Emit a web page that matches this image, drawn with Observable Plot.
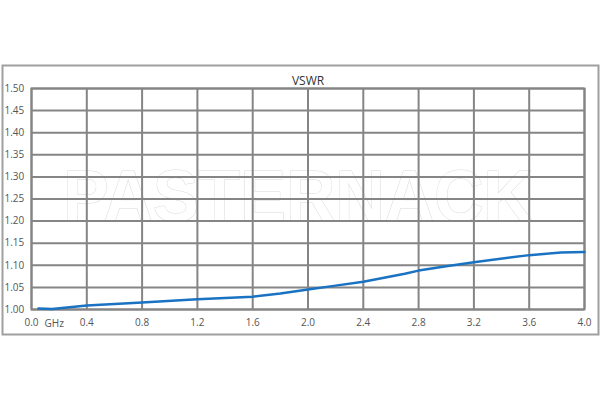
<!DOCTYPE html>
<html>
<head>
<meta charset="utf-8">
<script src="https://cdn.jsdelivr.net/npm/d3@7"></script>
<script src="https://cdn.jsdelivr.net/npm/@observablehq/plot@0.6"></script>
<style>
  html, body { margin: 0; padding: 0; background: #fff; }
  #chart svg { display: block; }
</style>
</head>
<body>
<div id="chart"></div>
<script>
const title = "VSWR";
const unitLabel = "GHz";
const watermark = "PASTERNACK";
const freqGHz = [0.05, 0.15, 0.4, 0.8, 1.2, 1.6, 1.8, 2.0, 2.2, 2.4, 2.7, 2.8, 3.0, 3.2, 3.6, 3.83, 4.0];
const vswr    = [1.002, 1.001, 1.009, 1.016, 1.023, 1.029, 1.036, 1.045, 1.054, 1.063, 1.081, 1.088, 1.098, 1.107, 1.123, 1.129, 1.130];
const xTicks = [0, 0.4, 0.8, 1.2, 1.6, 2.0, 2.4, 2.8, 3.2, 3.6, 4.0];
const yTicks = [1.00, 1.05, 1.10, 1.15, 1.20, 1.25, 1.30, 1.35, 1.40, 1.45, 1.50];

const data = freqGHz.map((f, i) => ({f, v: vswr[i]}));
const font = "'Open Sans', 'Noto Sans', sans-serif";

const chart = Plot.plot({
  width: 600,
  height: 400,
  marginLeft: 31,
  marginRight: 16,
  marginTop: 88,
  marginBottom: 91,
  style: {fontFamily: font, fontSize: "10px", color: "#555", background: "#fff"},
  x: {domain: [0, 4], ticks: xTicks, tickFormat: d => d.toFixed(1), label: null},
  y: {domain: [1, 1.5], ticks: yTicks, tickFormat: d => d.toFixed(2), label: null},
  marks: [
    Plot.frame({stroke: "#a0a0a0", strokeWidth: 2, insetLeft: -29, insetTop: -23, insetRight: -14, insetBottom: -25}),
    Plot.text([watermark], {frameAnchor: "middle", dx: -10, dy: -1, text: d => d, fontSize: 72, fontWeight: "bold", fontFamily: "'Liberation Sans', Arial, sans-serif", fill: "white", stroke: "#d8d8d8", strokeWidth: 1}),
    Plot.gridX(xTicks, {stroke: "#858585", strokeOpacity: 1, strokeWidth: 2}),
    Plot.gridY(yTicks, {stroke: "#858585", strokeOpacity: 1, strokeWidth: 2}),
    Plot.frame({stroke: "#858585", strokeWidth: 2}),
    Plot.axisY(yTicks, {tickSize: 0, textAnchor: "start", dx: -18, tickFormat: d => d.toFixed(2), fill: "#555", label: null}),
    Plot.axisX(xTicks, {tickSize: 0, tickPadding: 9, tickFormat: d => d.toFixed(1), fill: "#555", label: null}),
    Plot.text([unitLabel], {x: 0, y: 1, text: d => d, dx: 13, dy: 14, textAnchor: "start", fill: "#555", fontSize: 10}),
    Plot.text([title], {frameAnchor: "top", dy: -12, text: d => d, fontSize: 12, fill: "#333"}),
    Plot.line(data, {x: "f", y: "v", stroke: "#1a72c2", strokeWidth: 2.5})
  ]
});
document.getElementById("chart").appendChild(chart);
// fit watermark width
d3.select(chart).selectAll("text").filter(function() { return this.textContent === watermark; })
  .attr("textLength", 470).attr("lengthAdjust", "spacingAndGlyphs");
</script>
</body>
</html>
